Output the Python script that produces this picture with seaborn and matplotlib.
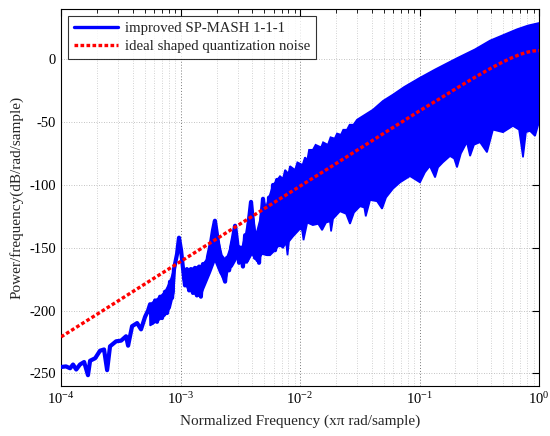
import numpy as np
import pandas as pd
import matplotlib
matplotlib.use("Agg")
import matplotlib.pyplot as plt
import seaborn as sns
from matplotlib.ticker import LogLocator, FixedLocator

# Low-frequency part of the simulated SP-MASH 1-1-1 spectrum (trace with tones)
trace_f = [1.00e-4, 1.10e-4, 1.19e-4, 1.26e-4, 1.34e-4, 1.44e-4, 1.56e-4, 1.68e-4,
           1.75e-4, 1.93e-4, 2.12e-4, 2.29e-4, 2.43e-4, 2.57e-4, 2.89e-4, 3.18e-4,
           3.50e-4, 3.64e-4, 3.93e-4, 4.33e-4, 4.67e-4, 5.05e-4, 5.35e-4,
           5.56e-4, 5.77e-4, 6.12e-4, 6.36e-4, 6.74e-4, 7.00e-4, 7.42e-4, 7.71e-4,
           8.17e-4, 8.49e-4, 8.82e-4, 9.35e-4, 9.71e-4, 1.01e-3, 1.05e-3,
           1.09e-3, 1.13e-3, 1.18e-3, 1.22e-3, 1.27e-3, 1.32e-3, 1.37e-3, 1.43e-3,
           1.48e-3, 1.54e-3, 1.60e-3, 1.70e-3, 1.80e-3, 1.87e-3, 1.94e-3, 2.02e-3,
           2.10e-3, 2.18e-3, 2.27e-3, 2.36e-3, 2.45e-3, 2.55e-3, 2.65e-3, 2.75e-3,
           2.86e-3, 2.97e-3, 3.09e-3, 3.21e-3, 3.33e-3, 3.47e-3, 3.60e-3, 3.74e-3,
           3.89e-3, 4.04e-3, 4.20e-3, 4.37e-3, 4.54e-3, 4.72e-3, 4.90e-3, 5.09e-3,
           5.30e-3, 5.50e-3, 5.72e-3, 5.94e-3, 6.18e-3, 6.42e-3, 6.67e-3]
trace_db = [-245, -244.5, -246, -243, -247, -243, -241, -251.5,
            -240, -238, -232, -231, -247.5, -228.5, -224.5, -224,
            -220.5, -228, -212.5, -210, -215, -205, -200,
            -195, -210, -192, -209, -189, -206, -185, -202,
            -177, -190, -167, -155, -142, -152, -167,
            -180, -167, -184, -167, -186, -166, -188, -165,
            -189, -163, -175, -157, -146, -136, -128.5, -140,
            -152, -160, -172, -177, -158, -168, -150, -142,
            -132.5, -145, -162, -150, -165, -140, -160, -128,
            -113.5, -130, -158, -145, -162, -130, -111, -125,
            -155, -110, -150, -100, -152, -96, -148]

# Filled spread of the spectrum just below the first tone
spread_a_f = [5.56e-4, 6.74e-4, 7.42e-4, 8.17e-4, 8.82e-4]
spread_a_hi = [-195, -189, -185, -177, -167]
spread_a_lo = [-212, -207, -204, -198, -185]

# Filled spread of the spectrum between the tones
spread_b_hi_f = [1.05e-3, 1.20e-3, 1.51e-3, 1.67e-3, 1.83e-3, 1.94e-3, 2.06e-3,
                 2.22e-3, 2.40e-3, 2.59e-3, 2.86e-3, 3.03e-3, 3.27e-3, 3.53e-3,
                 3.82e-3, 3.89e-3, 4.04e-3, 4.28e-3, 4.62e-3, 4.90e-3, 5.19e-3,
                 5.50e-3, 5.94e-3, 6.42e-3, 6.67e-3]
spread_b_hi = [-167, -167, -164, -159, -145, -128.5, -143,
               -156, -160, -151, -132.5, -148, -150, -138,
               -118, -113.5, -125, -140, -128, -111, -118,
               -110, -100, -96, -95]
spread_b_lo_f = [1.05e-3, 1.155e-3, 1.27e-3, 1.46e-3, 1.60e-3, 1.77e-3, 1.94e-3,
                 2.14e-3, 2.36e-3, 2.50e-3, 2.70e-3, 2.97e-3, 3.27e-3, 3.60e-3,
                 3.96e-3, 4.37e-3, 4.81e-3, 5.30e-3, 5.61e-3, 6.18e-3, 6.67e-3]
spread_b_lo = [-175, -183, -186, -189, -180, -170, -160,
               -170, -177, -168, -165, -158, -162, -162,
               -155, -161, -155, -156, -156, -152, -148]

# Upper and lower envelope of the dense high-frequency noise band
upper_f = [6.30e-3, 6.80e-3, 7.20e-3, 7.49e-3, 8.00e-3, 8.24e-3, 9.08e-3, 9.50e-3,
           1.05e-2, 1.10e-2, 1.15e-2, 1.19e-2, 1.28e-2, 1.35e-2, 1.50e-2, 1.56e-2,
           1.71e-2, 1.80e-2, 1.95e-2, 2.04e-2, 2.20e-2, 2.30e-2, 2.47e-2, 2.60e-2,
           2.80e-2, 3.00e-2, 3.50e-2, 4.08e-2, 4.95e-2, 6.00e-2, 7.42e-2, 9.91e-2,
           1.35e-1, 2.06e-1, 2.91e-1, 3.89e-1, 5.19e-1, 6.54e-1, 8.09e-1, 1.0]
upper_db = [-97, -93, -95, -88, -91, -85, -88, -82,
            -84, -78, -80, -72, -72, -68, -70, -66,
            -68, -62, -63, -59, -60, -56, -56, -52,
            -52, -48, -44, -40, -33, -28, -22, -15,
            -8, 1, 8, 15, 20, 24, 27, 29]
lower_f = [6.67e-3, 7.21e-3, 7.64e-3, 7.86e-3, 8.09e-3, 8.74e-3, 1.00e-2, 1.04e-2,
           1.07e-2, 1.15e-2, 1.28e-2, 1.42e-2, 1.53e-2, 1.65e-2, 1.78e-2, 1.82e-2,
           1.89e-2, 2.16e-2, 2.43e-2, 2.62e-2, 2.83e-2, 3.18e-2, 3.45e-2, 3.55e-2,
           3.86e-2, 4.41e-2, 4.86e-2, 5.25e-2, 6.00e-2, 6.87e-2, 8.32e-2, 9.35e-2,
           1.01e-1, 1.11e-1, 1.22e-1, 1.35e-1, 1.43e-1, 1.57e-1, 1.80e-1, 1.95e-1,
           2.06e-1, 2.22e-1, 2.49e-1, 2.65e-1, 2.86e-1, 3.21e-1, 3.67e-1, 4.12e-1,
           5.00e-1, 6.05e-1, 6.81e-1, 7.35e-1, 7.78e-1, 8.41e-1, 9.27e-1, 1.0]
lower_db = [-148, -150, -146, -156, -145, -141, -135, -136,
            -144, -130, -132, -131, -136, -130, -129, -137,
            -127, -121, -123, -131, -122, -117, -118, -125,
            -112, -113, -119, -110, -103, -98, -93, -96,
            -98, -90, -85, -94, -86, -82, -77, -79,
            -86, -75, -66, -77, -68, -66, -74, -56,
            -58, -53, -56, -78, -58, -57, -61, -50]

# Ideal third-order shaped quantization noise
ideal_f = [1e-4, 2e-4, 5e-4, 1e-3, 2e-3, 5e-3, 1e-2, 2e-2, 5e-2, 0.1,
           0.15, 0.2, 0.3, 0.4, 0.5, 0.6, 0.7, 0.8, 0.9, 1.0]
ideal_db = [-221, -203, -179, -161, -143, -119, -101, -83, -59, -41,
            -30.9, -23.5, -13.5, -6.8, -2.0, 1.5, 4.1, 5.75, 6.7, 7.0]

sns.set_style("white")
plt.rcParams["font.family"] = ["Liberation Serif", "DejaVu Serif"]
plt.rcParams["mathtext.fontset"] = "stix"
plt.rcParams["axes.unicode_minus"] = False

fig = plt.figure(figsize=(5.5, 4.36), dpi=100)
ax = fig.add_axes([0.111, 0.115, 0.869, 0.864])

blue = "#0000ff"
red = "#ff0000"


def fill_region(top_f, top_db, bot_f, bot_db):
    xs = np.concatenate([top_f, bot_f[::-1]])
    ys = np.concatenate([top_db, bot_db[::-1]])
    ax.fill(xs, ys, color=blue, lw=1.2, zorder=2)


fill_region(spread_a_f, spread_a_hi, spread_a_f, spread_a_lo)
fill_region(spread_b_hi_f, spread_b_hi, spread_b_lo_f, spread_b_lo)
fill_region(upper_f, upper_db, lower_f, lower_db)

trace = pd.DataFrame({"f": trace_f, "db": trace_db})
sns.lineplot(data=trace, x="f", y="db", sort=False, estimator=None,
             color=blue, lw=3.0, ax=ax, zorder=3, label="improved SP-MASH 1-1-1")

ideal = pd.DataFrame({"f": ideal_f, "db": ideal_db})
sns.lineplot(data=ideal, x="f", y="db", sort=False, estimator=None,
             color=red, lw=2.4, ax=ax, zorder=4, dashes=False,
             label="ideal shaped quantization noise")
ax.lines[-1].set_linestyle((0, (1.1, 0.7)))

ax.set_xscale("log")
ax.set_xlim(1e-4, 1.0)
ax.set_ylim(-260, 40)
ax.yaxis.set_major_locator(FixedLocator([-250, -200, -150, -100, -50, 0]))
ax.xaxis.set_major_locator(LogLocator(base=10, numticks=10))
ax.xaxis.set_minor_locator(LogLocator(base=10, subs=np.arange(2, 10), numticks=20))

ax.grid(True, which="major", axis="x", color="#7a7a7a", ls=(0, (1, 2)), lw=0.7)
ax.grid(True, which="major", axis="y", color="#b0b0b0", ls=(0, (1, 2)), lw=0.6)
ax.grid(True, which="minor", axis="x", color="#c4c4c4", ls=(0, (1, 2)), lw=0.6)

ax.tick_params(which="both", direction="in", top=True, right=True, labelsize=10.5,
               colors="black")
ax.tick_params(which="major", length=5, width=0.8)
ax.tick_params(which="minor", length=3, width=0.6)
for s in ax.spines.values():
    s.set_color("black")
    s.set_linewidth(0.8)

ax.set_xlabel("Normalized Frequency (x\u03c0 rad/sample)", fontsize=11, labelpad=6)
ax.set_ylabel("Power/frequency(dB/rad/sample)", fontsize=11, labelpad=4)

leg = ax.legend(loc="upper left", fontsize=10.6, frameon=True, fancybox=False,
                edgecolor="black", handlelength=3.0, borderaxespad=0.45,
                borderpad=0.4, labelspacing=0.3, handletextpad=0.5)
leg.get_frame().set_linewidth(0.8)
for h in leg.get_lines():
    h.set_linewidth(2.4)

fig.savefig("out.png", dpi=100)
